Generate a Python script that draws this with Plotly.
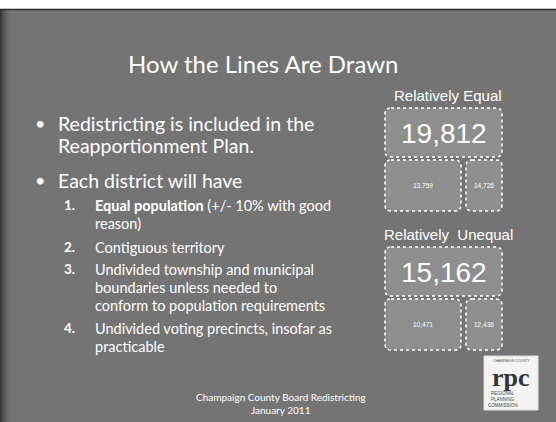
import plotly.graph_objects as go

# ---- data ----
title_text = "How the Lines Are Drawn"
bullets = ["Redistricting is included in the", "Reapportionment Plan.", "Each district will have"]
sub_numbers = ["1.", "2.", "3.", "4."]
sub_items = [
    ["<b>Equal population</b> (+/- 10% with good", "reason)"],
    ["Contiguous territory"],
    ["Undivided township and municipal", "boundaries unless needed to", "conform to population requirements"],
    ["Undivided voting precincts, insofar as", "practicable"],
]
group_labels = ["Relatively Equal", "Relatively  Unequal"]
equal_values = [19812, 13759, 14726]
unequal_values = [15162, 10471, 12436]
footer = ["Champaign County Board Redistricting", "January 2011"]

W, H = 556, 422
BG = "#747474"
BOX = "#8e8e8e"
SANS = "Liberation Sans, Arial, sans-serif"
CAL = "Lato, Open Sans, sans-serif"

fig = go.Figure()
shapes = []
ann = []


def rrect(x0, y0, x1, y1, r=6):
    return (f"M {x0+r},{y0} L {x1-r},{y0} Q {x1},{y0} {x1},{y0+r} "
            f"L {x1},{y1-r} Q {x1},{y1} {x1-r},{y1} L {x0+r},{y1} "
            f"Q {x0},{y1} {x0},{y1-r} L {x0},{y0+r} Q {x0},{y0} {x0+r},{y0} Z")


# slide background
shapes.append(dict(type="rect", xref="x", yref="y", x0=0, x1=W, y0=9, y1=H,
                   fillcolor=BG, line=dict(width=0), layer="below"))
# darker left edge
for i, c in enumerate(["#3a3a3a", "#505050", "#5e5e5e", "#686868", "#6e6e6e"]):
    shapes.append(dict(type="rect", xref="x", yref="y", x0=i * 2, x1=i * 2 + 2, y0=9, y1=H,
                       fillcolor=c, line=dict(width=0), layer="below"))
shapes.append(dict(type="line", xref="x", yref="y", x0=0, x1=W, y0=9.5, y1=9.5,
                   line=dict(color="#2a2a2a", width=1.5)))

# title
ann.append(dict(x=263, y=63, text=title_text, font=dict(family=CAL, size=24, color="white"),
                xanchor="center", yanchor="middle"))

# main bullets
for txt, y in zip(bullets, [123, 145, 180]):
    ann.append(dict(x=56, y=y, text=txt, font=dict(family=CAL, size=19.5, color="white"),
                    xanchor="left", yanchor="middle"))
for y in [123, 180]:
    ann.append(dict(x=40, y=y, text="•", font=dict(family=CAL, size=18, color="white"),
                    xanchor="center", yanchor="middle"))

# numbered sub items
line_y = [[205, 223], [247], [269, 287, 305], [328, 346]]
for num, lines, ys in zip(sub_numbers, sub_items, line_y):
    ann.append(dict(x=62, y=ys[0], text=f"<b>{num}</b>", font=dict(family=CAL, size=13.5, color="white"),
                    xanchor="left", yanchor="middle"))
    for t, y in zip(lines, ys):
        ann.append(dict(x=93, y=y, text=t, font=dict(family=CAL, size=14.5, color="white"),
                        xanchor="left", yanchor="middle"))

# boxes
def group(label, values, top):
    ann.append(dict(x=448, y=top, text=label, font=dict(family=SANS, size=15, color="white"),
                    xanchor="center", yanchor="middle"))
    big = (385, top + 13, 502, top + 62)
    l = (385, top + 65, 461, top + 116)
    r = (466, top + 65, 502, top + 116)
    for (x0, y0, x1, y1) in (big, l, r):
        shapes.append(dict(type="path", xref="x", yref="y", path=rrect(x0, y0, x1, y1),
                           fillcolor=BOX, line=dict(color="white", width=1.5, dash="dot")))
    ann.append(dict(x=(big[0] + big[2]) / 2, y=(big[1] + big[3]) / 2 + 1, text=f"{values[0]:,}",
                    font=dict(family=SANS, size=28, color="white"), xanchor="center", yanchor="middle"))
    for box, v in zip((l, r), values[1:]):
        ann.append(dict(x=(box[0] + box[2]) / 2, y=(box[1] + box[3]) / 2, text=f"{v:,}",
                        font=dict(family=SANS, size=6.5, color="white"), xanchor="center", yanchor="middle"))


group(group_labels[0], equal_values, 95)
group(group_labels[1], unequal_values, 234)

# footer
for t, y in zip(footer, [397, 410]):
    ann.append(dict(x=281, y=y, text=t, font=dict(family=CAL, size=10, color="white"),
                    xanchor="center", yanchor="middle"))

# logo
shapes.append(dict(type="rect", xref="x", yref="y", x0=484, x1=538, y0=356, y1=410,
                   fillcolor="#f4f4f4", line=dict(color="#dddddd", width=1)))
ann.append(dict(x=511, y=377, text="<b>rpc</b>", font=dict(family="Liberation Serif, serif", size=26, color="#333333"),
                xanchor="center", yanchor="middle"))
ann.append(dict(x=511, y=361, text="CHAMPAIGN COUNTY", font=dict(family=SANS, size=3.5, color="#555555"),
                xanchor="center", yanchor="middle"))
for t, y in zip(["REGIONAL", "PLANNING", "COMMISSION"], [393, 399, 405]):
    ann.append(dict(x=503, y=y, text=t, font=dict(family=SANS, size=4.5, color="#444444"),
                    xanchor="center", yanchor="middle"))

for a in ann:
    a.update(xref="x", yref="y", showarrow=False)

fig.update_layout(
    width=W, height=H, margin=dict(l=0, r=0, t=0, b=0),
    paper_bgcolor="white", plot_bgcolor="white",
    xaxis=dict(range=[0, W], visible=False, fixedrange=True),
    yaxis=dict(range=[H, 0], visible=False, fixedrange=True),
    shapes=shapes, annotations=ann, showlegend=False,
)
fig.write_html("out.html", config={"displayModeBar": False},
               post_script="document.body.style.margin='0px';document.body.style.overflow='hidden';")
